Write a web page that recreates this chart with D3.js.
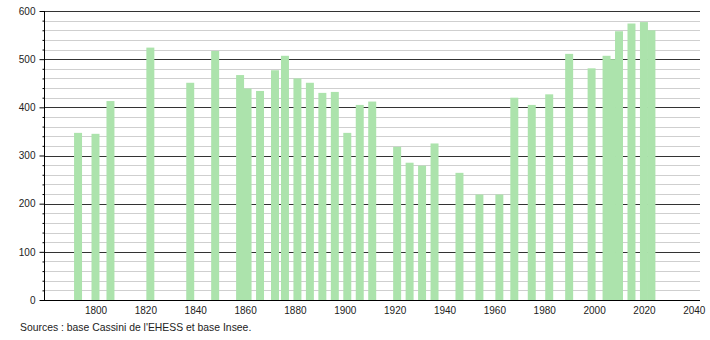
<!DOCTYPE html>
<html>
<head>
<meta charset="utf-8">
<script src="https://cdn.jsdelivr.net/npm/d3@7"></script>
<style>
  html, body { margin: 0; padding: 0; background: #fff; }
  svg { display: block; font-family: "Liberation Sans", Arial, sans-serif; }
</style>
</head>
<body>
<svg id="chart" width="710" height="340"></svg>
<script>
// ---- data ----
const years = [1793, 1800, 1806, 1822, 1838, 1848, 1858, 1861, 1866, 1872, 1876, 1881, 1886, 1891, 1896, 1901, 1906, 1911, 1921, 1926, 1931, 1936, 1946, 1954, 1962, 1968, 1975, 1982, 1990, 1999, 2005, 2007, 2010, 2015, 2020, 2023];
const population = [347, 345, 413, 524, 451, 517, 467, 439, 434, 477, 507, 460, 451, 430, 432, 347, 405, 412, 318, 285, 279, 325, 264, 219, 219, 420, 405, 427, 511, 481, 507, 500, 558, 574, 577, 560];
const xTickYears = [1800, 1820, 1840, 1860, 1880, 1900, 1920, 1940, 1960, 1980, 2000, 2020, 2040];
const yMajorTicks = [0, 100, 200, 300, 400, 500, 600];
const yMinorTicks = d3.range(0, 601, 20);
const sourceText = "Sources : base Cassini de l'EHESS et base Insee.";

// ---- layout ----
const svg = d3.select("#chart");
const plotLeft = 44, plotRight = 700, plotTop = 11, plotBottom = 300;

const x = d3.scaleLinear().domain([1800, 2040]).range([95.5, 693.8]);
const y = d3.scaleLinear().domain([0, 600]).range([plotBottom, plotTop]);
const halfBar = 1.6; // years

// minor gridlines
svg.append("g").selectAll("line")
  .data(yMinorTicks.filter(v => v % 100 !== 0))
  .join("line")
  .attr("x1", plotLeft).attr("x2", plotRight)
  .attr("y1", d => Math.round(y(d)) + 0.5).attr("y2", d => Math.round(y(d)) + 0.5)
  .attr("stroke", "#cfcfcf").attr("stroke-width", 1);

// major gridlines
svg.append("g").selectAll("line")
  .data(yMajorTicks.filter(v => v > 0))
  .join("line")
  .attr("x1", plotLeft).attr("x2", plotRight)
  .attr("y1", d => Math.round(y(d)) + 0.5).attr("y2", d => Math.round(y(d)) + 0.5)
  .attr("stroke", "#333333").attr("stroke-width", 1);

// bars
const data = years.map((yr, i) => ({ year: yr, value: population[i] }));
svg.append("g").selectAll("rect")
  .data(data)
  .join("rect")
  .attr("x", d => x(d.year - halfBar))
  .attr("width", d => x(d.year + halfBar) - x(d.year - halfBar))
  .attr("y", d => y(d.value))
  .attr("height", d => y(0) - y(d.value))
  .attr("fill", "#ace3ac");

// y axis
const yAxis = d3.axisLeft(y).tickValues(yMajorTicks).tickSize(5).tickPadding(4).tickFormat(d3.format("d"));
const gy = svg.append("g").attr("transform", `translate(${plotLeft + 0.5},0)`).call(yAxis);
gy.select(".domain").attr("stroke", "#000").attr("d", `M0,${plotTop}V${plotBottom}`);
gy.selectAll(".tick line").attr("stroke", "#000");
gy.selectAll(".tick text").attr("font-size", 10).attr("fill", "#222")
  .attr("font-family", "'Liberation Sans', Arial, sans-serif");
// minor y ticks
const yMinorAxis = d3.axisLeft(y).tickValues(yMinorTicks.filter(v => v % 100 !== 0)).tickSize(2).tickFormat("");
const gym = svg.append("g").attr("transform", `translate(${plotLeft + 0.5},0)`).call(yMinorAxis);
gym.select(".domain").remove();
gym.selectAll(".tick line").attr("stroke", "#000");

// x axis
const xAxis = d3.axisBottom(x).tickValues(xTickYears).tickSize(0).tickPadding(6).tickFormat(d3.format("d"));
const gx = svg.append("g").attr("transform", `translate(0,${plotBottom + 0.5})`).call(xAxis);
gx.select(".domain").attr("stroke", "#000").attr("d", `M${plotLeft},0H${plotRight}`);
gx.selectAll(".tick text").attr("font-size", 10).attr("fill", "#222")
  .attr("font-family", "'Liberation Sans', Arial, sans-serif");

// source
svg.append("text")
  .attr("x", 20).attr("y", 331)
  .attr("font-size", 10.4).attr("fill", "#222")
  .text(sourceText);
</script>
</body>
</html>
